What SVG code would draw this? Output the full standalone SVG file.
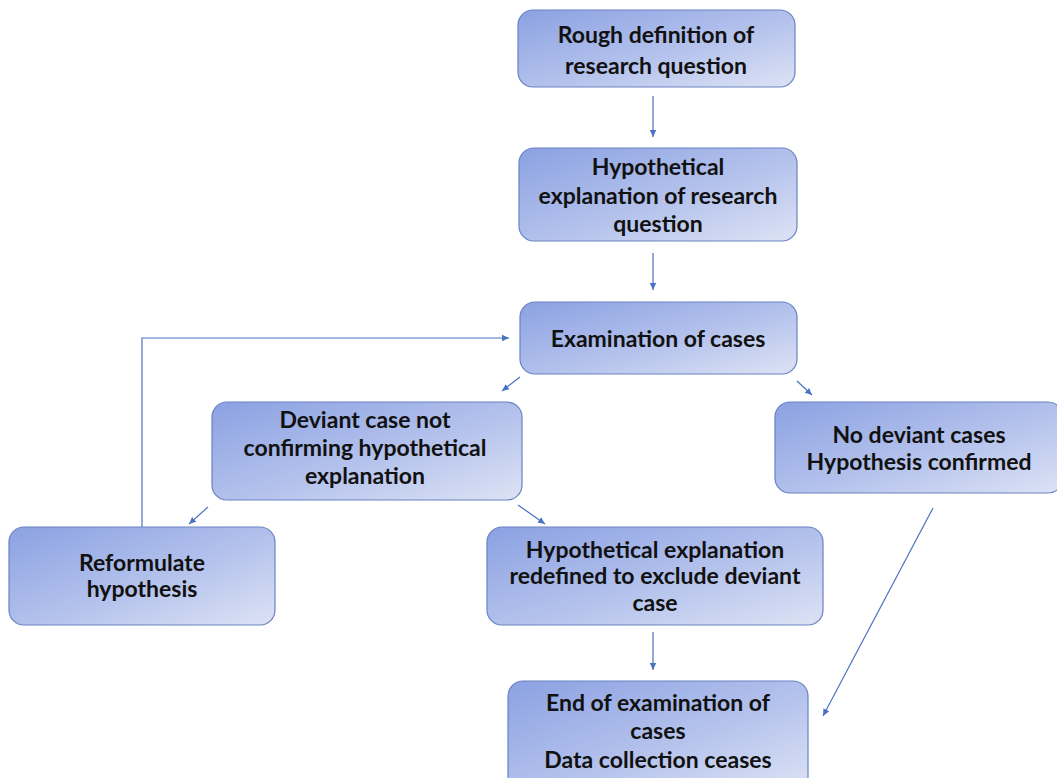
<svg xmlns="http://www.w3.org/2000/svg" width="1057" height="778" viewBox="0 0 1057 778">
  <defs>
    <linearGradient id="boxFill" x1="0" y1="0" x2="1" y2="1">
      <stop offset="0" stop-color="#8BA1E2"/>
      <stop offset="0.55" stop-color="#B4C2EC"/>
      <stop offset="1" stop-color="#DDE3F5"/>
    </linearGradient>
    <marker id="head" markerWidth="8" markerHeight="8" refX="7" refY="4" orient="auto" markerUnits="userSpaceOnUse">
      <path d="M0,0.8 L7,4 L0,7.2 Z" fill="#4A72C4"/>
    </marker>
    <style>
      .box { fill: url(#boxFill); stroke: #6A82C2; stroke-width: 1.2; }
      .lbl { font-family: Lato, "Open Sans", "Liberation Sans", sans-serif; font-weight: bold; font-size: 23px; fill: #111111; text-anchor: middle; }
      .edge { fill: none; stroke: #4A72C4; stroke-width: 1.2; marker-end: url(#head); }
    </style>
  </defs>

  <rect width="1057" height="778" fill="#FFFFFF"/>

  <g id="connectors">
    <path class="edge" d="M653,96 L653,137"/>
    <path class="edge" d="M653,253 L653,290"/>
    <path class="edge" d="M520,377 L502,391"/>
    <path class="edge" d="M797,381 L812,395"/>
    <path class="edge" d="M208,507 L189,524"/>
    <path class="edge" d="M518,505 L545,524"/>
    <path class="edge" d="M653,632 L653,670"/>
    <path class="edge" d="M933,508 L823,716"/>
    <path class="edge" d="M142,527 L142,338 L509,338"/>
  </g>

  <g id="rough-definition">
    <rect class="box" x="518" y="10" width="277" height="77" rx="15"/>
    <text class="lbl" x="656" y="43">Rough definition of</text>
    <text class="lbl" x="656" y="74">research question</text>
  </g>

  <g id="hypothetical-explanation">
    <rect class="box" x="519" y="148" width="278" height="93" rx="15"/>
    <text class="lbl" x="658" y="175">Hypothetical</text>
    <text class="lbl" x="658" y="204">explanation of research</text>
    <text class="lbl" x="658" y="232">question</text>
  </g>

  <g id="examination">
    <rect class="box" x="520" y="302" width="277" height="72" rx="15"/>
    <text class="lbl" x="658" y="347">Examination of cases</text>
  </g>

  <g id="deviant-case">
    <rect class="box" x="212" y="402" width="310" height="98" rx="15"/>
    <text class="lbl" x="365" y="428">Deviant case not</text>
    <text class="lbl" x="365" y="456">confirming hypothetical</text>
    <text class="lbl" x="365" y="484">explanation</text>
  </g>

  <g id="no-deviant">
    <rect class="box" x="775" y="402" width="288" height="91" rx="15"/>
    <text class="lbl" x="919" y="443">No deviant cases</text>
    <text class="lbl" x="919" y="470">Hypothesis confirmed</text>
  </g>

  <g id="reformulate">
    <rect class="box" x="9" y="527" width="266" height="98" rx="15"/>
    <text class="lbl" x="142" y="571">Reformulate</text>
    <text class="lbl" x="142" y="597">hypothesis</text>
  </g>

  <g id="redefined">
    <rect class="box" x="487" y="527" width="336" height="98" rx="15"/>
    <text class="lbl" x="655" y="558">Hypothetical explanation</text>
    <text class="lbl" x="655" y="584">redefined to exclude deviant</text>
    <text class="lbl" x="655" y="611">case</text>
  </g>

  <g id="end-of-examination">
    <rect class="box" x="508" y="681" width="300" height="110" rx="15"/>
    <text class="lbl" x="658" y="711">End of examination of</text>
    <text class="lbl" x="658" y="739">cases</text>
    <text class="lbl" x="658" y="768">Data collection ceases</text>
  </g>
</svg>
